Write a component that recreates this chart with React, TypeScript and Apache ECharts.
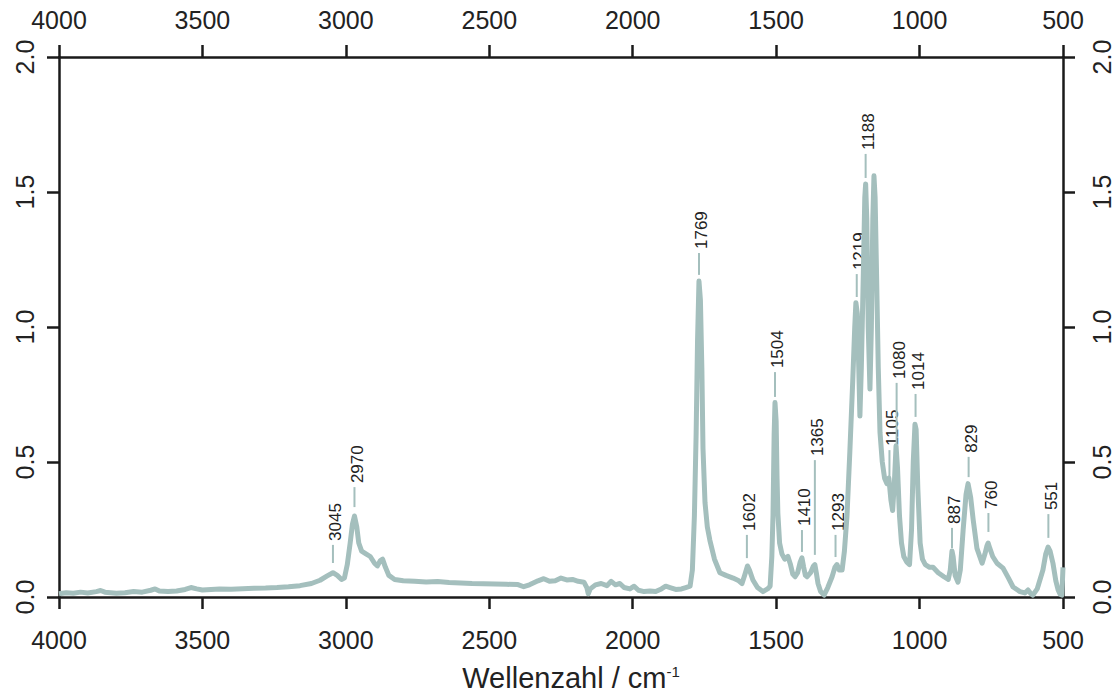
import React, { useEffect, useRef } from "react";
import * as echarts from "echarts";

// Spectrum: wavenumber (cm-1) and absorbance
const wavenumbers = [
  4000, 3975, 3950, 3925, 3900, 3870, 3855, 3840, 3800, 3770, 3740, 3710, 3680, 3665, 3650, 3620, 3590, 3560, 3540, 3520,
  3500, 3470, 3440, 3400, 3360, 3320, 3280, 3240, 3200, 3160, 3120, 3090, 3065, 3045, 3030, 3015, 3005, 2995, 2985, 2977,
  2970, 2962, 2955, 2945, 2930, 2915, 2900, 2890, 2880, 2872, 2862, 2850, 2830, 2800, 2760, 2720, 2680, 2640, 2600, 2560,
  2520, 2480, 2440, 2400, 2380, 2360, 2330, 2310, 2290, 2270, 2250, 2230, 2210, 2190, 2170, 2160, 2155, 2148, 2130, 2110,
  2090, 2075, 2060, 2045, 2030, 2010, 1995, 1980, 1960, 1940, 1920, 1900, 1885, 1870, 1850, 1830, 1815, 1800, 1792, 1785,
  1779, 1774, 1769, 1764, 1759, 1755, 1748, 1740, 1731, 1715, 1696, 1675, 1650, 1630, 1619, 1610, 1600, 1593, 1581, 1565,
  1546, 1530, 1521, 1515, 1511, 1507, 1504, 1500, 1497, 1494, 1488, 1480, 1470, 1459, 1450, 1442, 1434, 1425, 1416, 1410,
  1404, 1398, 1392, 1380, 1370, 1365, 1360, 1354, 1345, 1333, 1320, 1305, 1295, 1288, 1280, 1270, 1262, 1253, 1243, 1233,
  1226, 1222, 1217, 1212, 1208, 1203, 1196, 1191, 1188, 1184, 1179, 1173, 1168, 1163, 1159, 1155, 1150, 1144, 1138, 1130,
  1122, 1114, 1107, 1100, 1094, 1088, 1082, 1077, 1070, 1063, 1055, 1045, 1035, 1028, 1022, 1016, 1012, 1006, 998, 990,
  980, 965, 953, 935, 915, 900, 893, 887, 883, 876, 866, 858, 848, 838, 831, 822, 813, 800, 782, 772, 765, 761,
  755, 745, 730, 709, 690, 674, 650, 633, 622, 612, 605, 590, 570, 560, 552, 545, 535, 525, 517, 510, 504, 500,
];
const absorbance = [
  0.012, 0.016, 0.014, 0.018, 0.015, 0.02, 0.024, 0.018, 0.014, 0.016, 0.02, 0.018, 0.025, 0.03, 0.022, 0.02, 0.022, 0.028, 0.035, 0.03,
  0.026, 0.028, 0.03, 0.029, 0.031, 0.032, 0.033, 0.035, 0.038, 0.042, 0.05, 0.062, 0.078, 0.09, 0.08, 0.065, 0.07, 0.12, 0.2, 0.27,
  0.3, 0.26, 0.2, 0.17, 0.16, 0.15, 0.125, 0.115, 0.135, 0.14, 0.11, 0.08, 0.065, 0.06, 0.058, 0.056, 0.057, 0.054, 0.052, 0.05,
  0.049, 0.048, 0.047, 0.046, 0.038, 0.045, 0.06, 0.068, 0.058, 0.06, 0.07, 0.063, 0.065, 0.058, 0.055, 0.035, 0.012, 0.03, 0.045, 0.05,
  0.042, 0.058, 0.045, 0.05, 0.035, 0.03, 0.04, 0.025, 0.02, 0.022, 0.02, 0.03, 0.04, 0.035, 0.028, 0.03, 0.035, 0.04, 0.1, 0.3,
  0.6, 0.95, 1.17, 1.1, 0.85, 0.55, 0.35, 0.26, 0.21, 0.14, 0.09, 0.08, 0.07, 0.06, 0.05, 0.08, 0.115, 0.1, 0.063, 0.035,
  0.02, 0.03, 0.04, 0.15, 0.3, 0.6, 0.72, 0.65, 0.45, 0.31, 0.2, 0.16, 0.14, 0.15, 0.12, 0.085, 0.075, 0.09, 0.13, 0.145,
  0.11, 0.08, 0.075, 0.09, 0.115, 0.12, 0.09, 0.05, 0.02, 0.007, 0.035, 0.075, 0.11, 0.12, 0.1, 0.1, 0.17, 0.3, 0.54, 0.8,
  1.0, 1.09, 1.05, 0.85, 0.67, 0.85, 1.2, 1.48, 1.53, 1.4, 1.0, 0.77, 1.0, 1.4, 1.56, 1.48, 1.2, 0.85, 0.61, 0.5,
  0.44, 0.42, 0.44, 0.36, 0.32, 0.42, 0.56, 0.48, 0.3, 0.2, 0.15, 0.13, 0.12, 0.25, 0.5, 0.64, 0.62, 0.4, 0.2, 0.14,
  0.12, 0.11, 0.11, 0.09, 0.075, 0.065, 0.1, 0.17, 0.15, 0.08, 0.055, 0.1, 0.25, 0.38, 0.42, 0.37, 0.285, 0.18, 0.125, 0.16, 0.19, 0.2,
  0.18, 0.15, 0.125, 0.107, 0.07, 0.037, 0.02, 0.015, 0.026, 0.012, 0.007, 0.03, 0.1, 0.16, 0.185, 0.17, 0.125, 0.06, 0.026, 0.01, 0.007, 0.11,
];

// Peak annotations: position, tick from / to (absorbance)
const peakLabels = ["3045", "2970", "1769", "1602", "1504", "1410", "1365", "1293", "1219", "1188", "1105", "1080", "1014", "887", "829", "760", "551"];
const peakPositions = [3045, 2970, 1769, 1602, 1504, 1410, 1365, 1293, 1219, 1188, 1105, 1080, 1014, 887, 829, 760, 551];
const tickFrom = [0.126, 0.333, 1.193, 0.144, 0.741, 0.167, 0.156, 0.148, 1.111, 1.552, 0.441, 0.563, 0.667, 0.181, 0.444, 0.241, 0.219];
const tickTo = [0.193, 0.407, 1.274, 0.23, 0.833, 0.248, 0.507, 0.23, 1.196, 1.641, 0.544, 0.793, 0.752, 0.256, 0.519, 0.311, 0.307];

// Axis ticks
const xMin = 500;
const xMax = 4000;
const xStep = 500;
const yMin = 0;
const yMax = 2;
const yStep = 0.5;

const FONT = "'Liberation Sans', Arial, Helvetica, sans-serif";
const CURVE = "#a4bfbd";
const INK = "#1a1a1a";

export default function App() {
  const ref = useRef<HTMLDivElement>(null);

  useEffect(() => {
    document.body.style.margin = "0";
    if (!ref.current) return;
    const chart = echarts.init(ref.current, null, { renderer: "svg" });

    const spectrum = wavenumbers.map((w, i) => [w, absorbance[i]]);
    const annotations = peakPositions.map((w, i) => [w, tickFrom[i], tickTo[i], peakLabels[i]]);

    const axisLine = { show: true, onZero: false, lineStyle: { color: INK, width: 2.5 } };
    const axisTick = { show: true, inside: false, length: 12, lineStyle: { color: INK, width: 2.5 } };

    const xAxisBase = (position: string, margin: number) => ({
      type: "value",
      position,
      min: xMin,
      max: xMax,
      interval: xStep,
      inverse: true,
      axisLine,
      axisTick,
      splitLine: { show: false },
      axisLabel: {
        fontSize: 25,
        color: "#222",
        margin,
        fontFamily: FONT,
        showMinLabel: true,
        showMaxLabel: true,
        formatter: (v: number) => String(v),
      },
    });
    const yAxisBase = (position: string, margin: number) => ({
      type: "value",
      position,
      min: yMin,
      max: yMax,
      interval: yStep,
      axisLine,
      axisTick,
      splitLine: { show: false },
      axisLabel: {
        fontSize: 25,
        color: "#222",
        margin,
        rotate: 90,
        fontFamily: FONT,
        showMinLabel: true,
        showMaxLabel: true,
        formatter: (v: number) => v.toFixed(1),
      },
    });

    chart.setOption({
      animation: false,
      backgroundColor: "#ffffff",
      grid: { left: 59, top: 57, width: 1004, height: 540, containLabel: false },
      xAxis: [xAxisBase("bottom", 30), xAxisBase("top", 25)],
      yAxis: [yAxisBase("left", 22), yAxisBase("right", 26)],
      series: [
        {
          type: "line",
          xAxisIndex: 0,
          yAxisIndex: 0,
          data: spectrum,
          showSymbol: false,
          smooth: false,
          lineStyle: { color: CURVE, width: 5, join: "round" },
          silent: true,
        },
        {
          type: "custom",
          xAxisIndex: 0,
          yAxisIndex: 0,
          data: annotations,
          clip: false,
          silent: true,
          encode: { x: 0, y: [1, 2] },
          renderItem: (params: any, api: any) => {
            const w = api.value(0);
            const p0 = api.coord([w, api.value(1)]);
            const p1 = api.coord([w, api.value(2)]);
            const label = annotations[params.dataIndex][3] as string;
            return {
              type: "group",
              children: [
                {
                  type: "line",
                  shape: { x1: p0[0], y1: p0[1], x2: p1[0], y2: p1[1] },
                  style: { stroke: CURVE, lineWidth: 2 },
                },
                {
                  type: "text",
                  x: p1[0] + 3,
                  y: p1[1] - 4,
                  rotation: Math.PI / 2,
                  style: {
                    text: label,
                    fontSize: 17,
                    fontFamily: FONT,
                    fill: "#222",
                    align: "left",
                    verticalAlign: "middle",
                  },
                },
              ],
            };
          },
        },
      ],
      graphic: [
        {
          type: "text",
          x: 571,
          y: 678,
          style: {
            text: "{a|Wellenzahl / cm}{b|-1}",
            align: "center",
            verticalAlign: "middle",
            rich: {
              a: { fontSize: 29, fontFamily: FONT, fill: "#222", verticalAlign: "bottom" },
              b: { fontSize: 15, fontFamily: FONT, fill: "#222", verticalAlign: "top" },
            },
          },
        },
      ],
    });

    return () => chart.dispose();
  }, []);

  return <div ref={ref} style={{ width: 1117, height: 694 }} />;
}
